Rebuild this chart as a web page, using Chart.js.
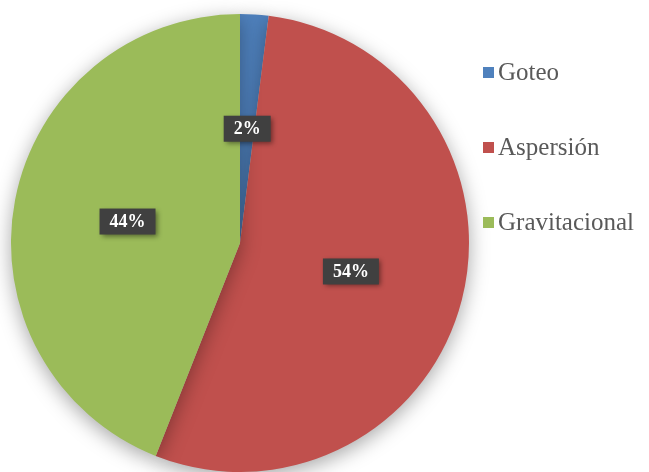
<!DOCTYPE html>
<html>
<head>
<meta charset="utf-8">
<script src="https://cdn.jsdelivr.net/npm/chart.js@4/dist/chart.umd.min.js"></script>
<style>
  html, body { margin: 0; padding: 0; background: #fff; }
  canvas { display: block; }
</style>
</head>
<body>
<canvas id="myChart" width="649" height="472"></canvas>
<script>
const labels = ['Goteo', 'Aspersión', 'Gravitacional'];
const values = [2, 54, 44];
const colors = ['#4F81BD', '#C0504D', '#9BBB59'];

// soft shadow under the whole pie
const pieShadow = {
    id: 'pieShadow',
    beforeDatasetsDraw(chart) {
        const ctx = chart.ctx;
        ctx.save();
        ctx.shadowColor = 'rgba(0, 0, 0, 0.35)';
        ctx.shadowBlur = 20;
        ctx.shadowOffsetY = 5;
    },
    afterDatasetsDraw(chart) {
        chart.ctx.restore();
    }
};

// dark boxes with the percentages
const valueBoxes = {
    id: 'valueBoxes',
    afterDraw(chart) {
        const ctx = chart.ctx;
        const meta = chart.getDatasetMeta(0);
        meta.data.forEach((arc, i) => {
            const p = arc.tooltipPosition();
            const txt = values[i] + '%';
            ctx.save();
            ctx.font = 'bold 18px "Liberation Serif"';
            const w = ctx.measureText(txt).width + 20;
            const h = 26;
            ctx.shadowColor = 'rgba(0, 0, 0, 0.45)';
            ctx.shadowBlur = 5;
            ctx.shadowOffsetX = 2;
            ctx.shadowOffsetY = 2;
            ctx.fillStyle = '#404040';
            ctx.fillRect(p.x - w / 2, p.y - h / 2, w, h);
            ctx.restore();
            ctx.save();
            ctx.font = 'bold 18px "Liberation Serif"';
            ctx.textAlign = 'center';
            ctx.textBaseline = 'middle';
            ctx.fillStyle = '#ffffff';
            ctx.fillText(txt, p.x, p.y + 1);
            ctx.restore();
        });
    }
};

// legend on the right, spaced like the original
const sideLegend = {
    id: 'sideLegend',
    afterDraw(chart) {
        const ctx = chart.ctx;
        labels.forEach((lab, i) => {
            const y = 72 + i * 75;
            ctx.save();
            ctx.fillStyle = colors[i];
            ctx.fillRect(483, y - 5, 11, 11);
            ctx.font = '25px "Liberation Serif"';
            ctx.textAlign = 'left';
            ctx.textBaseline = 'middle';
            ctx.fillStyle = '#595959';
            ctx.fillText(lab, 498, y + 1);
            ctx.restore();
        });
    }
};

new Chart(document.getElementById('myChart'), {
    type: 'pie',
    data: {
        labels: labels,
        datasets: [{
            data: values,
            backgroundColor: colors,
            borderWidth: 0
        }]
    },
    plugins: [pieShadow, valueBoxes, sideLegend],
    options: {
        responsive: false,
        animation: false,
        layout: {
            padding: { left: 11, right: 180, top: 14, bottom: 0 }
        },
        plugins: {
            legend: { display: false },
            tooltip: { enabled: false }
        }
    }
});
</script>
</body>
</html>
